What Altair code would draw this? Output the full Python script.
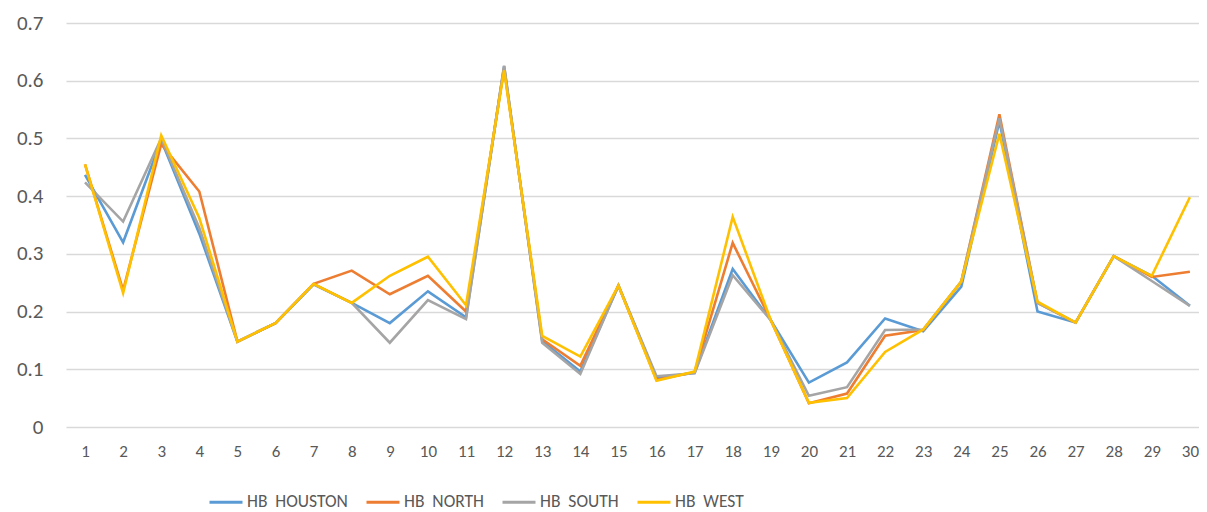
import altair as alt
import pandas as pd

days = list(range(1, 31))
series_names = ["HB\u00a0 HOUSTON", "HB\u00a0 NORTH", "HB\u00a0 SOUTH", "HB\u00a0 WEST"]
colors = ["#5B9BD5", "#ED7D31", "#A5A5A5", "#FFC000"]

houston = [0.437, 0.320, 0.497, 0.335, 0.148, 0.180, 0.247, 0.215, 0.180, 0.235,
           0.190, 0.625, 0.149, 0.096, 0.245, 0.085, 0.094, 0.274, 0.185, 0.077,
           0.112, 0.188, 0.166, 0.243, 0.530, 0.200, 0.181, 0.296, 0.262, 0.210]
north = [0.455, 0.237, 0.490, 0.408, 0.148, 0.180, 0.248, 0.271, 0.230, 0.262,
         0.200, 0.622, 0.152, 0.106, 0.245, 0.082, 0.095, 0.319, 0.185, 0.041,
         0.058, 0.158, 0.168, 0.252, 0.542, 0.215, 0.181, 0.296, 0.260, 0.269]
south = [0.424, 0.356, 0.500, 0.345, 0.148, 0.180, 0.247, 0.215, 0.146, 0.220,
         0.187, 0.626, 0.146, 0.092, 0.245, 0.088, 0.093, 0.263, 0.185, 0.054,
         0.069, 0.168, 0.169, 0.252, 0.535, 0.215, 0.181, 0.296, 0.253, 0.210]
west = [0.455, 0.232, 0.505, 0.362, 0.148, 0.180, 0.248, 0.215, 0.262, 0.295,
        0.211, 0.618, 0.158, 0.122, 0.245, 0.080, 0.096, 0.364, 0.185, 0.042,
        0.050, 0.130, 0.169, 0.252, 0.508, 0.217, 0.181, 0.296, 0.262, 0.398]

y_ticks = [0, 0.1, 0.2, 0.3, 0.4, 0.5, 0.6, 0.7]

rows = []
for i, (name, vals) in enumerate(zip(series_names, [houston, north, south, west])):
    for d, v in zip(days, vals):
        rows.append({"day": d, "series": name, "value": v, "order": i})
df = pd.DataFrame(rows)

FONT = "Carlito, Calibri, 'Liberation Sans Narrow', 'DejaVu Sans Condensed', sans-serif"

chart = alt.Chart(df).mark_line(strokeWidth=2.6).encode(
    x=alt.X("day:Q", scale=alt.Scale(domain=[0.501, 30.239], nice=False, zero=False),
            axis=alt.Axis(title=None, values=days, format="d", grid=False,
                          ticks=False, domain=False,
                          labelFontSize=17, labelColor="#595959", labelFont=FONT,
                          labelPadding=16, labelFlush=False, labelOverlap=False)),
    y=alt.Y("value:Q", scale=alt.Scale(domain=[0, 0.7], nice=False),
            axis=alt.Axis(title=None, values=y_ticks, domain=False, ticks=False,
                          gridColor="#d9d9d9", gridWidth=1.5,
                          labelExpr="datum.value == 0 ? '0' : format(datum.value, '.1f')",
                          labelFontSize=21, labelColor="#595959", labelFont=FONT,
                          labelPadding=23)),
    color=alt.Color("series:N",
                    scale=alt.Scale(domain=series_names, range=colors),
                    legend=alt.Legend(title=None, orient="none", direction="horizontal",
                                      legendX=142, legendY=461,
                                      symbolType="stroke", symbolSize=1089,
                                      symbolStrokeWidth=3, labelOffset=3,
                                      columnPadding=12,
                                      labelFontSize=17.5, labelColor="#595959",
                                      labelFont=FONT)),
    order=alt.Order("order:Q"),
    detail="series:N",
).properties(
    width=1133, height=404,
    background="white",
    autosize=alt.AutoSizeParams(type="none"),
    padding={"left": 58, "top": 15, "right": 0, "bottom": 84},
).configure_view(stroke=None)

chart.save("out.html", embed_options={"renderer": "svg", "actions": False})
